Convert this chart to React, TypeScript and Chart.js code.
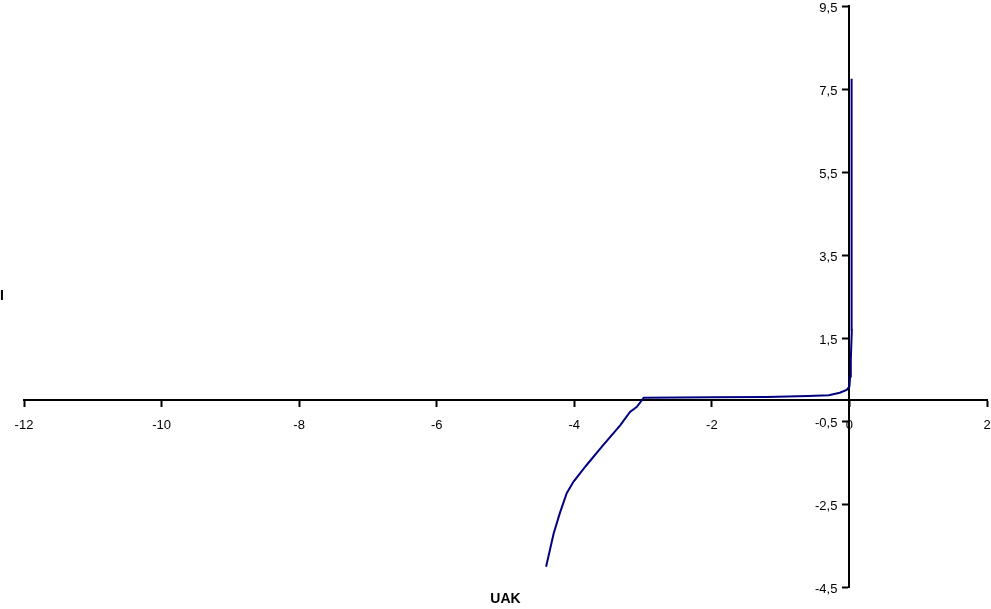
import React, { useEffect, useRef } from "react";
import { Chart, registerables } from "chart.js";

Chart.register(...registerables);

const uakValues = [-4.41, -4.30, -4.21, -4.11, -4.01, -3.82, -3.58, -3.33, -3.19, -3.09, -2.99, -2.0, -1.2, -0.6, -0.3, -0.14, -0.04, 0, 0.01, 0.02, 0.035, 0.035, 0.03, 0.03];
const iValues = [-4.01, -3.21, -2.72, -2.24, -1.96, -1.56, -1.08, -0.60, -0.28, -0.16, 0.06, 0.07, 0.08, 0.1, 0.12, 0.18, 0.25, 0.33, 0.57, 0.97, 1.7, 4.5, 4.5, 7.75];

const xTicks = [-12, -10, -8, -6, -4, -2, 0, 2];
const yTicks = [-4.5, -2.5, -0.5, 1.5, 3.5, 5.5, 7.5, 9.5];

const xTitle = "UAK";
const yTitle = "I";

const fmt = (v: number) => String(v).replace(".", ",");
const FONT = "13px 'Liberation Sans', Arial, sans-serif";

const labelPlugin = {
  id: "axisLabels",
  afterDraw(chart: any) {
    const { ctx, chartArea } = chart;
    const xs = chart.scales.x;
    const ys = chart.scales.y;
    const x0 = xs.getPixelForValue(0);
    const y0 = ys.getPixelForValue(0);
    ctx.save();
    ctx.fillStyle = "#000";
    ctx.font = FONT;
    ctx.textBaseline = "middle";
    ctx.textAlign = "center";
    xTicks.forEach((v) => {
      ctx.fillText(fmt(v), xs.getPixelForValue(v), y0 + 25);
    });
    ctx.textAlign = "right";
    yTicks.forEach((v) => {
      ctx.fillText(fmt(v), x0 - 12, ys.getPixelForValue(v) + 2);
    });
    ctx.font = "bold 14px 'Liberation Sans', Arial, sans-serif";
    ctx.textAlign = "left";
    ctx.fillText(yTitle, 0, (chartArea.top + chartArea.bottom) / 2);
    ctx.textAlign = "center";
    ctx.fillText(xTitle, (chartArea.left + chartArea.right) / 2, chartArea.bottom + 12);
    ctx.restore();
  },
};

export default function App() {
  const ref = useRef<HTMLCanvasElement>(null);
  useEffect(() => {
    if (!ref.current) return;
    const points = uakValues.map((x, k) => ({ x, y: iValues[k] }));
    const chart = new Chart(ref.current, {
      type: "scatter",
      data: {
        datasets: [
          {
            data: points,
            showLine: true,
            borderColor: "#000080",
            borderWidth: 2,
            pointRadius: 0,
            tension: 0,
          },
        ],
      },
      options: {
        animation: false,
        responsive: false,
        maintainAspectRatio: false,
        layout: { padding: { left: 24, right: 4, top: 6, bottom: 22 } },
        plugins: { legend: { display: false }, tooltip: { enabled: false } },
        scales: {
          x: {
            type: "linear",
            min: -12,
            max: 2,
            position: { y: 0 } as any,
            afterBuildTicks: (s: any) => {
              s.ticks = xTicks.map((v) => ({ value: v }));
            },
            grid: { drawOnChartArea: false, drawTicks: true, tickLength: 6, tickWidth: 2, tickColor: "#000" },
            border: { display: true, color: "#000", width: 2 },
            ticks: { display: false },
          },
          y: {
            type: "linear",
            min: -4.5,
            max: 9.5,
            position: { x: 0 } as any,
            afterBuildTicks: (s: any) => {
              s.ticks = yTicks.map((v) => ({ value: v }));
            },
            grid: { drawOnChartArea: false, drawTicks: true, tickLength: 6, tickWidth: 2, tickColor: "#000" },
            border: { display: true, color: "#000", width: 2 },
            ticks: { display: false },
          },
        },
      },
      plugins: [labelPlugin],
    });
    return () => chart.destroy();
  }, []);
  return (
    <div style={{ position: "fixed", left: 0, top: 0, width: 991, height: 609, background: "#fff" }}>
      <canvas ref={ref} width={991} height={609} style={{ width: 991, height: 609 }} />
    </div>
  );
}
